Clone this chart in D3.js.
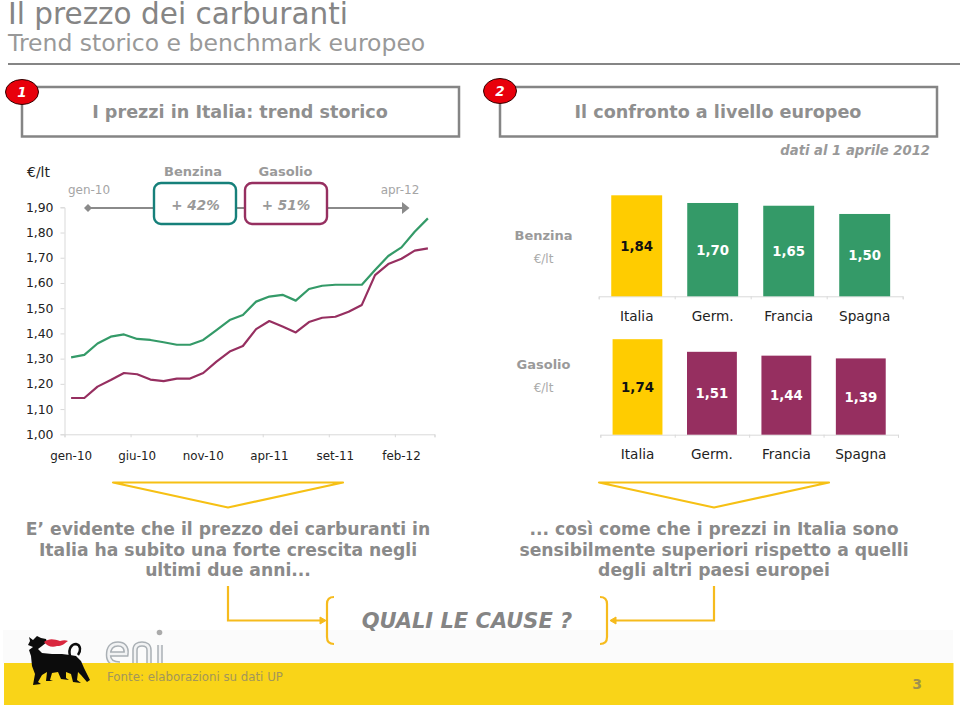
<!DOCTYPE html>
<html><head><meta charset="utf-8">
<script src="https://cdn.jsdelivr.net/npm/d3@7"></script>
<style>html,body{margin:0;padding:0;background:#fff;overflow:hidden}svg{display:block}text{font-family:"DejaVu Sans",sans-serif}</style>
</head><body><svg id="c" width="960" height="706"></svg>
<script>
const months=["gen-10","feb-10","mar-10","apr-10","mag-10","giu-10","lug-10","ago-10","set-10","ott-10","nov-10","dic-10","gen-11","feb-11","mar-11","apr-11","mag-11","giu-11","lug-11","ago-11","set-11","ott-11","nov-11","dic-11","gen-12","feb-12","mar-12","apr-12"];
const benzinaTrend=[1.305,1.315,1.36,1.387,1.396,1.378,1.374,1.365,1.355,1.355,1.374,1.413,1.453,1.473,1.526,1.546,1.553,1.53,1.576,1.589,1.593,1.593,1.593,1.651,1.707,1.741,1.803,1.856];
const gasolioTrend=[1.144,1.144,1.189,1.215,1.243,1.238,1.217,1.211,1.221,1.221,1.243,1.288,1.328,1.35,1.417,1.449,1.427,1.404,1.445,1.462,1.466,1.486,1.513,1.631,1.675,1.696,1.728,1.737];
const yTicks=[1,1.1,1.2,1.3,1.4,1.5,1.6,1.7,1.8,1.9];
const countries=["Italia","Germ.","Francia","Spagna"];
const benzinaEU=[1.84,1.70,1.65,1.50];
const gasolioEU=[1.74,1.51,1.44,1.39];
const comma=v=>d3.format(".2f")(v).replace(".",",");
const GREY="#8a8a8a",GREEN="#349a68",PLUM="#962f60",YEL="#ffcc00",AMB="#f6c014",AX="#d9d9d9";
const svg=d3.select("#c");
function txt(x,y,s,o={}){return svg.append("text").attr("x",x).attr("y",y).text(s)
 .attr("text-anchor",o.a||"middle").attr("font-size",o.s||12).attr("font-weight",o.b?"bold":"normal")
 .attr("font-style",o.i?"italic":"normal").attr("fill",o.c||GREY).attr("letter-spacing",o.ls||0);}

// footer
svg.append("rect").attr("x",3).attr("y",630).attr("width",950).attr("height",33).attr("fill","#fbfbfb");
const eniG=svg.append("g").attr("fill","none");
["M108.5,654H126C127,647 123,644 118,644C111,644 108.5,649 108.5,655C108.5,661 112,664 120,664",
 "M135,664V650C135,646 138,644 142,644C146,644 149,646 149,650V664",
 "M160,645V664"].forEach(d=>{
  eniG.append("path").attr("d",d).attr("stroke","#aab0b5").attr("stroke-width",5.5);
  eniG.append("path").attr("d",d).attr("stroke","#f2f3f4").attr("stroke-width",2.5);
});
svg.append("circle").attr("cx",159.5).attr("cy",632.5).attr("r",2.8).attr("fill","#aaa");
svg.append("rect").attr("x",4).attr("y",663).attr("width",949.5).attr("height",42).attr("fill","#f9d418");
svg.append("path").attr("fill","#0c0c0c").attr("d","M29,637L33,640L37,636L41,638L46,639L47,642L42,646L38,649L42,653L52,654L62,654L70,655L76,656L81,661L84,668L90,680L87,682L81,675L78,672L77,680L81,683L73,682L71,674L66,672L66,678L69,680L61,679L58,672L52,673L50,680L53,681L46,681L47,672L42,675L38,682L41,684L33,685L35,674L32,666L31,656L29,650L33,647L28,645L30,641Z");
svg.append("path").attr("d","M70,656C68,648 72,644 76,644C81,645 81,651 78,655").attr("fill","none").attr("stroke","#0c0c0c").attr("stroke-width",2.5);
svg.append("path").attr("fill","#d9263d").attr("d","M44,642C49,638 54,639 60,641C63,640 66,640 68,641C64,644 62,646 57,646C52,648 47,646 44,642Z");
txt(107,680.5,"Fonte: elaborazioni su dati UP",{a:"start",s:11.8,c:"#a3965a"});
txt(917,689,"3",{s:14,b:1,c:"#a0914d"});

// title
txt(8,24,"Il prezzo dei carburanti",{a:"start",s:29.5,c:"#858585"});
txt(8,51,"Trend storico e benchmark europeo",{a:"start",s:23.5,c:"#999"});
svg.append("line").attr("x1",8).attr("x2",960).attr("y1",64).attr("y2",64).attr("stroke","#858585").attr("stroke-width",2);

// section headers
[[22,437,92,"1","I prezzi in Italia: trend storico",240],[500,437,91,"2","Il confronto a livello europeo",718]].forEach(h=>{
 svg.append("rect").attr("x",h[0]).attr("y",87).attr("width",h[1]).attr("height",49.5).attr("fill","#fff").attr("stroke","#858585").attr("stroke-width",2.5);
 svg.append("ellipse").attr("cx",h[0]).attr("cy",h[2]).attr("rx",16.5).attr("ry",12.5).attr("fill","#e8000b").attr("stroke","#300").attr("stroke-width",1);
 txt(h[0],h[2]+5,h[3],{s:13.5,b:1,i:1,c:"#fff"});
 txt(h[5],118,h[4],{s:17.6,b:1,c:"#8f8f8f"});
});
txt(930,154.5,"dati al 1 aprile 2012",{a:"end",s:13.2,b:1,i:1,c:"#999"});

// line chart
const xBand=d3.scaleBand().domain(months).range([64.5,434.5]);
const xEdge=d3.scaleLinear().domain([0,months.length]).range([64.5,434.5]);
const y=d3.scaleLinear().domain([1,1.9]).range([434.3,207.3]);
const xTickIdx=d3.range(0,months.length,5);
const gy=svg.append("g").attr("transform","translate(64.5,0)")
 .call(d3.axisLeft(y).tickValues(yTicks).tickFormat(comma).tickSize(4).tickPadding(7));
const gxT=svg.append("g").attr("transform","translate(0,434.3)")
 .call(d3.axisBottom(xEdge).tickValues(xTickIdx.concat([months.length])).tickFormat("").tickSize(3));
const gxL=svg.append("g").attr("transform","translate(0,434.3)")
 .call(d3.axisBottom(xBand).tickValues(xTickIdx.map(i=>months[i])).tickSize(0).tickPadding(17));
gxL.select(".domain").remove();
[gy,gxT].forEach(g=>g.selectAll("path,line").attr("stroke",AX).attr("stroke-width",1));
gy.selectAll("text").attr("font-size",12.4).attr("fill","#222").attr("font-family","DejaVu Sans");
gxL.selectAll("text").attr("font-size",11.9).attr("fill","#222").attr("font-family","DejaVu Sans");
const line=d3.line().x((d,i)=>xBand(months[i])+xBand.bandwidth()/2).y(d=>y(d));
[[benzinaTrend,GREEN],[gasolioTrend,PLUM]].forEach(s=>svg.append("path").datum(s[0]).attr("d",line).attr("fill","none").attr("stroke",s[1]).attr("stroke-width",2.2).attr("stroke-linejoin","round"));

txt(27,177,"€/lt",{a:"start",s:14,c:"#222"});
txt(193,176,"Benzina",{s:13,b:1,c:"#9a9a9a"});
txt(285.5,176,"Gasolio",{s:13,b:1,c:"#9a9a9a"});
txt(89,194,"gen-10",{s:12,c:"#a5a5a5"});
txt(400,194,"apr-12",{s:12,c:"#a5a5a5"});
svg.append("line").attr("x1",88).attr("x2",402).attr("y1",208).attr("y2",208).attr("stroke",GREY).attr("stroke-width",2);
svg.append("path").attr("d","M402,202L409.5,208L402,214Z").attr("fill",GREY);
svg.append("path").attr("d","M84,208L88,204L92,208L88,212Z").attr("fill",GREY);
[[154,"#16807a","+ 42%",195.5],[245,PLUM,"+ 51%",286]].forEach(b=>{
 svg.append("rect").attr("x",b[0]).attr("y",183).attr("width",82).attr("height",41).attr("rx",7).attr("fill","#fff").attr("stroke",b[1]).attr("stroke-width",2.4);
 txt(b[3],209.5,b[2],{s:13.5,b:1,i:1,c:"#999"});
});

// bar charts
function bars(vals,base,x0,x1,color,labelY,name,nameY,unitY,pad){
 const x=d3.scaleBand().domain(countries).range([x0,x1]).paddingInner(pad).paddingOuter(pad/2);
 const edge=d3.scaleLinear().domain([0,countries.length]).range([x0,x1]);
 const h=d3.scaleLinear().domain([0,1.84]).range([base,base-101]);
 const g=svg.append("g").attr("transform",`translate(0,${base})`)
  .call(d3.axisBottom(edge).tickValues(d3.range(0,5)).tickFormat("").tickSize(3));
 g.selectAll("path,line").attr("stroke",AX);
 svg.selectAll(null).data(vals).enter().append("rect")
  .attr("x",(d,i)=>x(countries[i])).attr("width",x.bandwidth())
  .attr("y",d=>h(d)).attr("height",d=>base-h(d))
  .attr("fill",(d,i)=>i===0?YEL:color);
 vals.forEach((v,i)=>{
  const cx=x(countries[i])+x.bandwidth()/2;
  txt(cx,(h(v)+base)/2+5,comma(v),{s:13.3,b:1,c:i===0?"#111":"#fff"});
  txt(cx,labelY,countries[i],{s:13.6,c:"#222"});
 });
 txt(543.5,nameY,name,{s:13,b:1,c:"#9a9a9a"});
 txt(543.5,unitY,"€/lt",{s:12,c:"#aaa"});
}
bars(benzinaEU,296.3,598.7,902.7,GREEN,320.5,"Benzina",240,263,0.33);
bars(gasolioEU,434.7,600.3,898,PLUM,458.5,"Gasolio",369,392,0.33);

// triangles
[[113,343,228],[599,829,714]].forEach(t=>{
 svg.append("path").attr("d",`M${t[0]},482.5L${t[1]},482.5L${t[2]},507.5Z`).attr("fill","none").attr("stroke",AMB).attr("stroke-width",2.2).attr("stroke-linejoin","round");
});
// conclusions
[["E’ evidente che il prezzo dei carburanti in","Italia ha subito una forte crescita negli","ultimi due anni..."],
 ["... così come che i prezzi in Italia sono","sensibilmente superiori rispetto a quelli","degli altri paesi europei"]].forEach((ls,k)=>{
 ls.forEach((l,i)=>txt(k?714:228,535+i*20.5,l,{s:17.2,b:1,c:"#8a8a8a"}));
});
// connectors and braces
const C="#f6bb1d";
function conn(p){svg.append("path").attr("d",p).attr("fill","none").attr("stroke",C).attr("stroke-width",2.2);}
conn("M228,586V620.5H322");conn("M714,586V620.5H614");
svg.append("path").attr("d","M326,620.5L320,617V624Z").attr("fill",C).attr("stroke",C);
svg.append("path").attr("d","M610,620.5L616,617V624Z").attr("fill",C).attr("stroke",C);
conn("M334,597C329,597 327,599 327,604V637C327,642 329,644 334,644");
conn("M600,597C605,597 607,599 607,604V637C607,642 605,644 600,644");
txt(467,628,"QUALI LE CAUSE ?",{s:21,b:1,i:1,c:"#858585"});
</script></body></html>
